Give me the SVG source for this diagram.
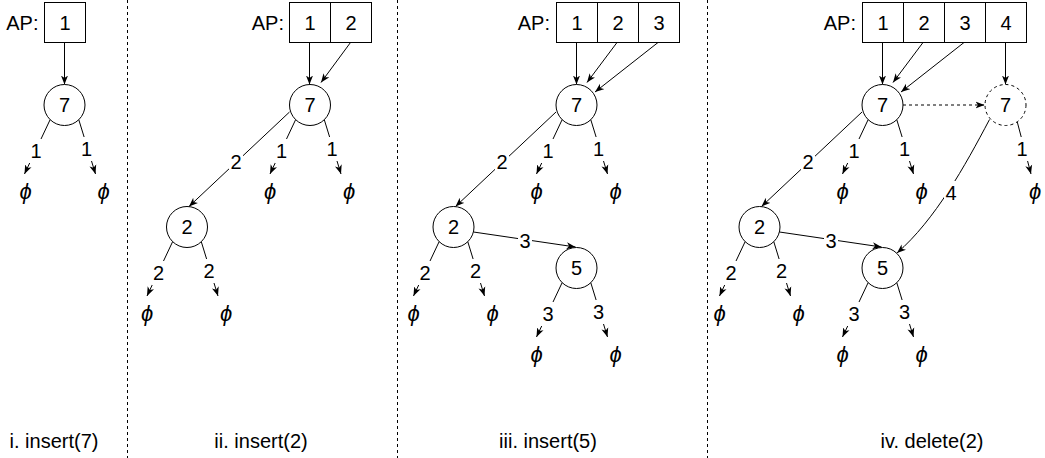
<svg xmlns="http://www.w3.org/2000/svg" width="1045" height="458" viewBox="0 0 1045 458">
<style>
text{font-family:"Liberation Sans",Arial,Helvetica,sans-serif;font-size:20px;fill:#000;text-anchor:middle}
.ap{text-anchor:end}
.phi{font-family:"Liberation Sans",Arial,sans-serif;font-style:italic;font-size:22px}
.cell{fill:#fff;stroke:#000;stroke-width:1}
.node{fill:#fff;stroke:#000;stroke-width:1}
.dnode{fill:#fff;stroke:#000;stroke-width:1;stroke-dasharray:3 3}
.e{fill:none;stroke:#000;stroke-width:1;marker-end:url(#arr)}
.ed{fill:none;stroke:#000;stroke-width:1;stroke-dasharray:3 3;marker-end:url(#arr)}
.div{stroke:#000;stroke-width:1;stroke-dasharray:3 3}
.lbg{fill:#fff}
</style>
<defs>
<marker id="arr" viewBox="0 0 9 8" refX="9" refY="4" markerWidth="9" markerHeight="8" markerUnits="userSpaceOnUse" orient="auto">
<path d="M0,0.5 L9,4 L0,7.5 L2.5,4 z" fill="#000"/>
</marker>
</defs>
<rect width="1045" height="458" fill="#fff"/>
<g id="dividers">
<line class="div" x1="127.5" y1="0" x2="127.5" y2="458"/>
<line class="div" x1="397.5" y1="0" x2="397.5" y2="458"/>
<line class="div" x1="707.5" y1="0" x2="707.5" y2="458"/>
</g>
<g id="connectors">
<line class="e" x1="64.5" y1="42.5" x2="64.5" y2="84.5"/>
<line class="e" x1="50.4" y1="119.1" x2="24.5" y2="174"/>
<line class="e" x1="78.6" y1="119.1" x2="95.5" y2="174"/>
<line class="e" x1="309.5" y1="42.5" x2="309.5" y2="84.5"/>
<line class="e" x1="350.5" y1="42.5" x2="321" y2="82.5"/>
<line class="e" x1="295.9" y1="119.1" x2="270" y2="174"/>
<line class="e" x1="324.1" y1="119.1" x2="341" y2="174"/>
<line class="e" x1="289.5" y1="112" x2="189" y2="206.5"/>
<line class="e" x1="172.9" y1="241.1" x2="147" y2="296"/>
<line class="e" x1="201.1" y1="241.1" x2="218" y2="296"/>
<line class="e" x1="576.5" y1="42.5" x2="576.5" y2="84.5"/>
<line class="e" x1="617" y1="42.5" x2="587" y2="82.5"/>
<line class="e" x1="658" y1="42.5" x2="595" y2="92"/>
<line class="e" x1="562.4" y1="119.1" x2="536.5" y2="174"/>
<line class="e" x1="590.6" y1="119.1" x2="607.5" y2="174"/>
<line class="e" x1="556" y1="112" x2="455.5" y2="206.5"/>
<line class="e" x1="439.4" y1="241.1" x2="413.5" y2="296"/>
<line class="e" x1="467.6" y1="241.1" x2="484.5" y2="296"/>
<line class="e" x1="473.5" y1="232" x2="575.5" y2="247"/>
<line class="e" x1="562.4" y1="282.1" x2="536.5" y2="337"/>
<line class="e" x1="590.6" y1="282.1" x2="607.5" y2="337"/>
<line class="e" x1="882.5" y1="42.5" x2="882.5" y2="84.5"/>
<line class="e" x1="923" y1="42.5" x2="893" y2="82.5"/>
<line class="e" x1="964" y1="42.5" x2="901" y2="92"/>
<line class="e" x1="1005.5" y1="42.5" x2="1005.5" y2="84.5"/>
<line class="ed" x1="903" y1="105" x2="984.5" y2="105"/>
<line class="e" x1="868.4" y1="119.1" x2="842.5" y2="174"/>
<line class="e" x1="896.6" y1="119.1" x2="913.5" y2="174"/>
<line class="e" x1="862" y1="112" x2="761.5" y2="206.5"/>
<line class="e" x1="745.4" y1="241.1" x2="719.5" y2="296"/>
<line class="e" x1="773.6" y1="241.1" x2="790.5" y2="296"/>
<line class="e" x1="779.5" y1="232" x2="881.5" y2="247"/>
<line class="e" x1="868.4" y1="282.1" x2="842.5" y2="337"/>
<line class="e" x1="896.6" y1="282.1" x2="913.5" y2="337"/>
<line class="e" x1="1017" y1="121" x2="1031" y2="174"/>
<path class="e" d="M989.5,119.5 C965,166 935,220 897,253"/>
<g id="edge-labels">
<rect class="lbg" x="29" y="139" width="14" height="24"/><text x="36" y="158">1</text>
<rect class="lbg" x="79.5" y="137" width="14" height="24"/><text x="86.5" y="156">1</text>
<rect class="lbg" x="274.5" y="139" width="14" height="24"/><text x="281.5" y="158">1</text>
<rect class="lbg" x="325" y="137" width="14" height="24"/><text x="332" y="156">1</text>
<rect class="lbg" x="229" y="150" width="14" height="24"/><text x="236" y="169">2</text>
<rect class="lbg" x="151.5" y="261" width="14" height="24"/><text x="158.5" y="280">2</text>
<rect class="lbg" x="202" y="259" width="14" height="24"/><text x="209" y="278">2</text>
<rect class="lbg" x="541" y="139" width="14" height="24"/><text x="548" y="158">1</text>
<rect class="lbg" x="591.5" y="137" width="14" height="24"/><text x="598.5" y="156">1</text>
<rect class="lbg" x="495" y="150" width="14" height="24"/><text x="502" y="169">2</text>
<rect class="lbg" x="418" y="261" width="14" height="24"/><text x="425" y="280">2</text>
<rect class="lbg" x="468.5" y="259" width="14" height="24"/><text x="475.5" y="278">2</text>
<rect class="lbg" x="518" y="229" width="14" height="24"/><text x="525" y="248">3</text>
<rect class="lbg" x="541" y="302" width="14" height="24"/><text x="548" y="321">3</text>
<rect class="lbg" x="591.5" y="300" width="14" height="24"/><text x="598.5" y="319">3</text>
<rect class="lbg" x="847" y="139" width="14" height="24"/><text x="854" y="158">1</text>
<rect class="lbg" x="897.5" y="137" width="14" height="24"/><text x="904.5" y="156">1</text>
<rect class="lbg" x="801" y="150" width="14" height="24"/><text x="808" y="169">2</text>
<rect class="lbg" x="724" y="261" width="14" height="24"/><text x="731" y="280">2</text>
<rect class="lbg" x="774.5" y="259" width="14" height="24"/><text x="781.5" y="278">2</text>
<rect class="lbg" x="824" y="229" width="14" height="24"/><text x="831" y="248">3</text>
<rect class="lbg" x="847" y="302" width="14" height="24"/><text x="854" y="321">3</text>
<rect class="lbg" x="897.5" y="300" width="14" height="24"/><text x="904.5" y="319">3</text>
<rect class="lbg" x="1015" y="137" width="14" height="24"/><text x="1022" y="156">1</text>
<rect class="lbg" x="944" y="181" width="14" height="24"/><text x="951" y="200">4</text>
</g>
</g>
<g id="ap-i"><text class="ap" x="38.5" y="30">AP:</text><rect class="cell" x="44.5" y="2.5" width="41" height="40"/><text x="65" y="30">1</text></g>
<g id="n7-i"><circle class="node" cx="64.5" cy="105" r="20.5"/><text x="64.5" y="112">7</text></g>
<g id="phi-i"><text class="phi" x="25.5" y="199">ϕ</text><text class="phi" x="103.5" y="199">ϕ</text></g>
<g id="ap-ii"><text class="ap" x="284" y="30">AP:</text><rect class="cell" x="289.5" y="2.5" width="41" height="40"/><rect class="cell" x="330.5" y="2.5" width="41" height="40"/><text x="310" y="30">1</text><text x="351" y="30">2</text></g>
<g id="n7-ii"><circle class="node" cx="310" cy="105" r="20.5"/><text x="310" y="112">7</text></g>
<g id="n2-ii"><circle class="node" cx="187" cy="227" r="20.5"/><text x="187" y="234">2</text></g>
<g id="phi-ii"><text class="phi" x="270" y="199">ϕ</text><text class="phi" x="349" y="199">ϕ</text><text class="phi" x="147" y="321">ϕ</text><text class="phi" x="226" y="321">ϕ</text></g>
<g id="ap-iii"><text class="ap" x="550" y="30">AP:</text><rect class="cell" x="556.5" y="2.5" width="41" height="40"/><rect class="cell" x="597.5" y="2.5" width="41" height="40"/><rect class="cell" x="638.5" y="2.5" width="41" height="40"/><text x="577" y="30">1</text><text x="618" y="30">2</text><text x="659" y="30">3</text></g>
<g id="n7-iii"><circle class="node" cx="576.5" cy="105" r="20.5"/><text x="576.5" y="112">7</text></g>
<g id="n2-iii"><circle class="node" cx="453.5" cy="227" r="20.5"/><text x="453.5" y="234">2</text></g>
<g id="n5-iii"><circle class="node" cx="576.5" cy="268" r="20.5"/><text x="576.5" y="275">5</text></g>
<g id="phi-iii"><text class="phi" x="536.5" y="199">ϕ</text><text class="phi" x="615.5" y="199">ϕ</text><text class="phi" x="413.5" y="321">ϕ</text><text class="phi" x="492.5" y="321">ϕ</text><text class="phi" x="536.5" y="362">ϕ</text><text class="phi" x="615.5" y="362">ϕ</text></g>
<g id="ap-iv"><text class="ap" x="856" y="30">AP:</text><rect class="cell" x="862.5" y="2.5" width="41" height="40"/><rect class="cell" x="903.5" y="2.5" width="41" height="40"/><rect class="cell" x="944.5" y="2.5" width="41" height="40"/><rect class="cell" x="985.5" y="2.5" width="41" height="40"/><text x="883" y="30">1</text><text x="924" y="30">2</text><text x="965" y="30">3</text><text x="1006" y="30">4</text></g>
<g id="n7-iv"><circle class="node" cx="882.5" cy="105" r="20.5"/><text x="882.5" y="112">7</text></g>
<g id="n7d-iv"><circle class="dnode" cx="1005.5" cy="105" r="20.5"/><text x="1005.5" y="112">7</text></g>
<g id="n2-iv"><circle class="node" cx="759.5" cy="227" r="20.5"/><text x="759.5" y="234">2</text></g>
<g id="n5-iv"><circle class="node" cx="882.5" cy="268" r="20.5"/><text x="882.5" y="275">5</text></g>
<g id="phi-iv"><text class="phi" x="842.5" y="199">ϕ</text><text class="phi" x="921.5" y="199">ϕ</text><text class="phi" x="1035" y="199">ϕ</text><text class="phi" x="719.5" y="321">ϕ</text><text class="phi" x="798.5" y="321">ϕ</text><text class="phi" x="842.5" y="362">ϕ</text><text class="phi" x="921.5" y="362">ϕ</text></g>
<g id="captions">
<text x="54" y="448">i. insert(7)</text>
<text x="261" y="448">ii. insert(2)</text>
<text x="548" y="448">iii. insert(5)</text>
<text x="932" y="448">iv. delete(2)</text>
</g>
</svg>
